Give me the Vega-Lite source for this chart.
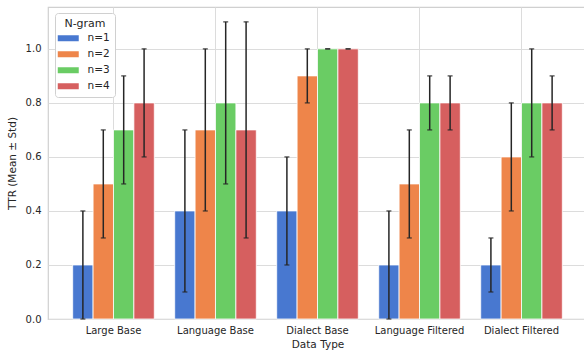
{
  "$schema": "https://vega.github.io/schema/vega-lite/v6.json",
  "width": 539,
  "height": 312,
  "autosize": {"type": "none"},
  "padding": {"left": 48, "top": 7, "right": 0, "bottom": 35},
  "background": "white",
  "data": {
    "values": [
      {"type": "Large Base", "ngram": "n=1", "mean": 0.2, "lo": 0.0, "hi": 0.4},
      {"type": "Large Base", "ngram": "n=2", "mean": 0.5, "lo": 0.3, "hi": 0.7},
      {"type": "Large Base", "ngram": "n=3", "mean": 0.7, "lo": 0.5, "hi": 0.9},
      {"type": "Large Base", "ngram": "n=4", "mean": 0.8, "lo": 0.6, "hi": 1.0},
      {"type": "Language Base", "ngram": "n=1", "mean": 0.4, "lo": 0.1, "hi": 0.7},
      {"type": "Language Base", "ngram": "n=2", "mean": 0.7, "lo": 0.4, "hi": 1.0},
      {"type": "Language Base", "ngram": "n=3", "mean": 0.8, "lo": 0.5, "hi": 1.1},
      {"type": "Language Base", "ngram": "n=4", "mean": 0.7, "lo": 0.3, "hi": 1.1},
      {"type": "Dialect Base", "ngram": "n=1", "mean": 0.4, "lo": 0.2, "hi": 0.6},
      {"type": "Dialect Base", "ngram": "n=2", "mean": 0.9, "lo": 0.8, "hi": 1.0},
      {"type": "Dialect Base", "ngram": "n=3", "mean": 1.0, "lo": 1.0, "hi": 1.0},
      {"type": "Dialect Base", "ngram": "n=4", "mean": 1.0, "lo": 1.0, "hi": 1.0},
      {"type": "Language Filtered", "ngram": "n=1", "mean": 0.2, "lo": 0.0, "hi": 0.4},
      {"type": "Language Filtered", "ngram": "n=2", "mean": 0.5, "lo": 0.3, "hi": 0.7},
      {"type": "Language Filtered", "ngram": "n=3", "mean": 0.8, "lo": 0.7, "hi": 0.9},
      {"type": "Language Filtered", "ngram": "n=4", "mean": 0.8, "lo": 0.7, "hi": 0.9},
      {"type": "Dialect Filtered", "ngram": "n=1", "mean": 0.2, "lo": 0.1, "hi": 0.3},
      {"type": "Dialect Filtered", "ngram": "n=2", "mean": 0.6, "lo": 0.4, "hi": 0.8},
      {"type": "Dialect Filtered", "ngram": "n=3", "mean": 0.8, "lo": 0.6, "hi": 1.0},
      {"type": "Dialect Filtered", "ngram": "n=4", "mean": 0.8, "lo": 0.7, "hi": 0.9}
    ]
  },
  "encoding": {
    "x": {
      "field": "type",
      "type": "nominal",
      "sort": null,
      "scale": {"paddingInner": 0.2, "paddingOuter": 0.242},
      "axis": {
        "title": "Data Type",
        "labelAngle": 0,
        "grid": true,
        "ticks": false,
        "domain": false,
        "labelPadding": 6,
        "titlePadding": 4
      }
    },
    "xOffset": {
      "field": "ngram",
      "type": "nominal",
      "sort": ["n=1", "n=2", "n=3", "n=4"],
      "scale": {"paddingInner": 0, "paddingOuter": 0}
    }
  },
  "layer": [
    {
      "mark": {"type": "bar", "stroke": "white", "strokeWidth": 0.8},
      "encoding": {
        "y": {
          "field": "mean",
          "type": "quantitative",
          "scale": {"domain": [0, 1.155], "nice": false, "zero": true},
          "axis": {
            "title": "TTR (Mean ± Std)",
            "values": [0, 0.2, 0.4, 0.6, 0.8, 1.0],
            "format": ".1f",
            "grid": true,
            "ticks": false,
            "domain": false,
            "labelPadding": 7,
            "titlePadding": 8
          }
        },
        "color": {
          "field": "ngram",
          "type": "nominal",
          "sort": ["n=1", "n=2", "n=3", "n=4"],
          "scale": {
            "domain": ["n=1", "n=2", "n=3", "n=4"],
            "range": ["#4878d0", "#ee854a", "#6acc64", "#d65f5f"]
          },
          "legend": {
            "title": "N-gram",
            "orient": "none",
            "legendX": 7,
            "legendY": 6,
            "titleAnchor": "middle",
            "titlePadding": 4,
            "symbolType": "M-2.1,-0.6H2.1V0.6H-2.1Z",
            "symbolSize": 100,
            "symbolStrokeWidth": 0,
            "symbolOffset": 3,
            "labelOffset": 14,
            "rowPadding": 5,
            "padding": 5,
            "strokeColor": "#d0d0d0",
            "fillColor": "white",
            "cornerRadius": 3
          }
        }
      }
    },
    {
      "mark": {"type": "rule", "color": "#262626", "strokeWidth": 1.5},
      "encoding": {
        "y": {"field": "lo", "type": "quantitative"},
        "y2": {"field": "hi"}
      }
    },
    {
      "mark": {"type": "tick", "color": "#262626", "size": 5, "thickness": 1.5, "orient": "horizontal"},
      "encoding": {"y": {"field": "hi", "type": "quantitative"}}
    },
    {
      "mark": {"type": "tick", "color": "#262626", "size": 5, "thickness": 1.5, "orient": "horizontal"},
      "encoding": {"y": {"field": "lo", "type": "quantitative"}}
    }
  ],
  "config": {
    "font": "DejaVu Sans",
    "view": {"stroke": "#d0d0d0", "strokeWidth": 1.2},
    "axis": {
      "gridColor": "#dcdcdc",
      "gridWidth": 1,
      "labelFont": "DejaVu Sans",
      "labelFontSize": 10,
      "labelColor": "#262626",
      "titleFont": "DejaVu Sans",
      "titleFontSize": 10.5,
      "titleFontWeight": "normal",
      "titleColor": "#262626"
    },
    "legend": {
      "labelFont": "DejaVu Sans",
      "labelFontSize": 10.5,
      "labelColor": "#262626",
      "titleFont": "DejaVu Sans",
      "titleFontSize": 11,
      "titleFontWeight": "normal",
      "titleColor": "#262626"
    }
  }
}
